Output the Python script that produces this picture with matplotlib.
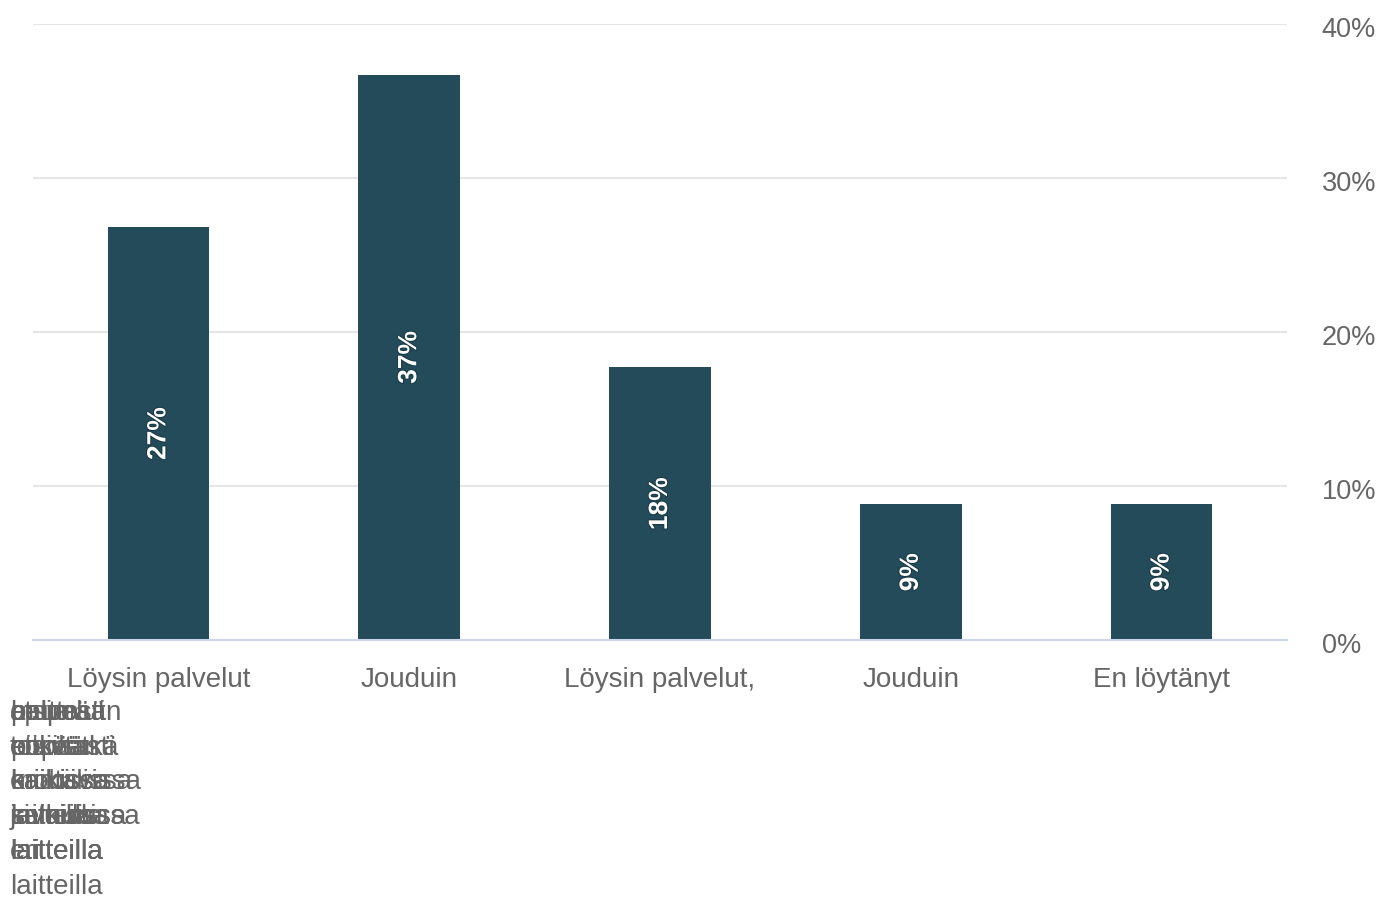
import matplotlib
matplotlib.use("Agg")
import matplotlib.pyplot as plt
import matplotlib.patheffects as pe
import matplotlib.transforms as mtransforms

plt.rcParams['font.family'] = ['Liberation Sans', 'DejaVu Sans']

# ---- data ----
categories = [
    ["Löysin palvelut", "helposti", "nopeasti", "mobiilissa", "ja muissa", "laitteilla"],
    ["Jouduin", "etsimään", "pitkään", "saatavissa", "sivuissa", "eri", "laitteilla"],
    ["Löysin palvelut,", "mutta", "en", "kaikissa", "selaimissa", "laitteilla"],
    ["Jouduin", "apua", "toisilta", "eri", "kaikilla", "laitteilla"],
    ["En löytänyt", "palvelut", "etsivätkä", "kaikissa", "laitteilla"],
]
values = [26.8, 36.7, 17.7, 8.8, 8.8]
yticks = [0, 10, 20, 30, 40]
ytick_labels = ["0%", "10%", "20%", "30%", "40%"]

BAR = "#234b5a"
W, H = 1380, 898

fig = plt.figure(figsize=(W / 100, H / 100), dpi=100)
ax = fig.add_axes([33 / W, 1 - 640 / H, (1287 - 33) / W, (640 - 24) / H])

x = list(range(len(values)))
bars = ax.bar(x, values, width=0.405, color=BAR, zorder=3)

ax.set_xlim(-0.5, len(values) - 0.5)
ax.set_ylim(0, 40)

for s in ["top", "left", "right"]:
    ax.spines[s].set_visible(False)
ax.spines["bottom"].set_color("#ccd6eb")
ax.spines["bottom"].set_linewidth(1.5)
ax.spines["bottom"].set_zorder(4)

ax.yaxis.tick_right()
ax.set_yticks(yticks)
ax.set_yticklabels(ytick_labels)
ax.tick_params(axis="y", length=0, pad=25, labelsize=19.5, labelcolor="#666666")
shift = mtransforms.ScaledTranslation(0, -3 / 100, fig.dpi_scale_trans)
for lab in ax.get_yticklabels():
    lab.set_horizontalalignment("left")
    lab.set_transform(lab.get_transform() + shift)
for yv in yticks[1:]:
    ax.axhline(yv, color="#e6e6e6", lw=1.5, zorder=1)

# x labels: first line under each bar
ax.set_xticks(x)
ax.set_xticklabels([c[0] for c in categories])
ax.tick_params(axis="x", length=0, pad=19.5, labelsize=20, labelcolor="#666666")

# overflowing remaining lines drawn at the left edge
row_y = [713, 748, 782, 817, 852, 887]
for c in categories:
    for i, line in enumerate(c[1:]):
        fig.text(10 / W, 1 - row_y[i] / H, line, ha="left", va="center",
                 fontsize=20, color="#666666")

# data labels
for b, v in zip(bars, values):
    ax.text(b.get_x() + b.get_width() / 2, v / 2, f"{round(v)}%", rotation=90,
            ha="center", va="center", color="white", fontsize=19, fontweight="bold",
            zorder=5,
            path_effects=[pe.withStroke(linewidth=1.5, foreground="#1a3a46")])

fig.savefig("out.png", dpi=100, facecolor="white")
